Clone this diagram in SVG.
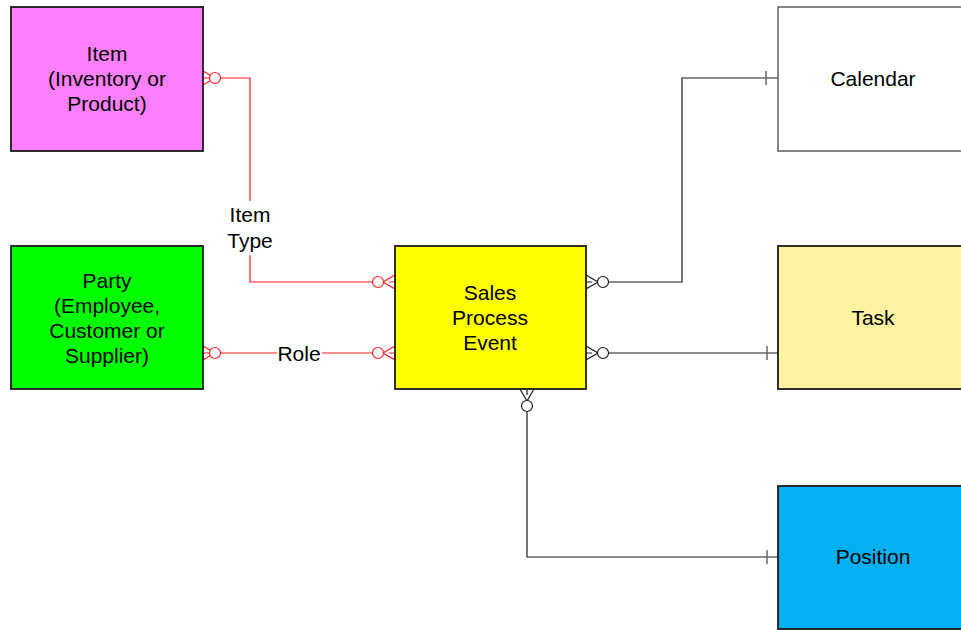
<svg xmlns="http://www.w3.org/2000/svg" width="961" height="630" viewBox="0 0 961 630">
  <style>
    .box { stroke: #1a1a1a; stroke-width: 1.8; }
    .lbl { font-family: "Liberation Sans", Arial, sans-serif; font-size: 21px; fill: #000; text-anchor: middle; }
    .red { stroke: #ff2020; stroke-width: 1.2; fill: none; }
    .blk { stroke: #1a1a1a; stroke-width: 1.2; fill: none; }
    .redc { stroke: #ff2020; stroke-width: 1.2; fill: #fff; }
    .blkc { stroke: #1a1a1a; stroke-width: 1.2; fill: #fff; }
    .tick { stroke: #666; stroke-width: 1.5; }
  </style>
  <rect width="961" height="630" fill="#fff"/>

  <!-- connectors -->
  <g id="connectors">
    <!-- Item to Sales Process Event -->
    <polyline class="red" points="221,78 250,78 250,282 372,282"/>
    <path class="red" d="M203,71 L215,78 L203,85 M203,78 L209,78"/>
    <circle class="redc" cx="215" cy="78" r="5.5"/>
    <path class="red" d="M395,275 L383,282 L395,289 M389,282 L395,282"/>
    <circle class="redc" cx="378" cy="282" r="5.5"/>
    <rect x="218" y="201" width="64" height="54" fill="#fff"/>
    <text class="lbl" x="250" y="221.5">Item</text>
    <text class="lbl" x="250" y="247.5">Type</text>

    <!-- Party to Sales Process Event -->
    <line class="red" x1="221" y1="353" x2="372" y2="353"/>
    <path class="red" d="M203,346 L215,353 L203,360 M203,353 L209,353"/>
    <circle class="redc" cx="215" cy="353" r="5.5"/>
    <path class="red" d="M395,346 L383,353 L395,360 M389,353 L395,353"/>
    <circle class="redc" cx="378" cy="353" r="5.5"/>
    <rect x="277" y="341" width="45" height="24" fill="#fff"/>
    <text class="lbl" x="299" y="360.5">Role</text>

    <!-- Sales Process Event to Calendar -->
    <polyline class="blk" points="609,282 682,282 682,78 778,78"/>
    <path class="blk" d="M586,275 L598,282 L586,289 M586,282 L592,282"/>
    <circle class="blkc" cx="603" cy="282" r="5.5"/>
    <line class="tick" x1="766" y1="71" x2="766" y2="85"/>

    <!-- Sales Process Event to Task -->
    <line class="blk" x1="609" y1="353" x2="778" y2="353"/>
    <path class="blk" d="M586,346 L598,353 L586,360 M586,353 L592,353"/>
    <circle class="blkc" cx="603" cy="353" r="5.5"/>
    <line class="tick" x1="767" y1="346" x2="767" y2="360"/>

    <!-- Sales Process Event to Position -->
    <polyline class="blk" points="527,412 527,557 778,557"/>
    <path class="blk" d="M520,389 L527,401 L534,389 M527,389 L527,395"/>
    <circle class="blkc" cx="527" cy="406" r="5.5"/>
    <line class="tick" x1="767" y1="550" x2="767" y2="564"/>
  </g>

  <!-- nodes -->
  <g id="item">
    <rect class="box" x="11" y="7" width="192" height="144" fill="#ff80ff"/>
    <text class="lbl" x="107" y="60.5">Item</text>
    <text class="lbl" x="107" y="85.5">(Inventory or</text>
    <text class="lbl" x="107" y="110.5">Product)</text>
  </g>
  <g id="party">
    <rect class="box" x="11" y="246" width="192" height="143" fill="#00ff00"/>
    <text class="lbl" x="107" y="287.5">Party</text>
    <text class="lbl" x="107" y="312.5">(Employee,</text>
    <text class="lbl" x="107" y="337.5">Customer or</text>
    <text class="lbl" x="107" y="362.5">Supplier)</text>
  </g>
  <g id="sales-process-event">
    <rect class="box" x="395" y="246" width="191" height="143" fill="#ffff00"/>
    <text class="lbl" x="490" y="299.5">Sales</text>
    <text class="lbl" x="490" y="324.5">Process</text>
    <text class="lbl" x="490" y="349.5">Event</text>
  </g>
  <g id="calendar">
    <rect x="778" y="7" width="200" height="144" fill="#fff" stroke="#555" stroke-width="1.4"/>
    <text class="lbl" x="873" y="85.5">Calendar</text>
  </g>
  <g id="task">
    <rect class="box" x="778" y="246" width="200" height="143" fill="#fff2a0"/>
    <text class="lbl" x="873" y="324.5">Task</text>
  </g>
  <g id="position">
    <rect class="box" x="778" y="486" width="200" height="143" fill="#00b0f0"/>
    <text class="lbl" x="873" y="563.5">Position</text>
  </g>
</svg>
